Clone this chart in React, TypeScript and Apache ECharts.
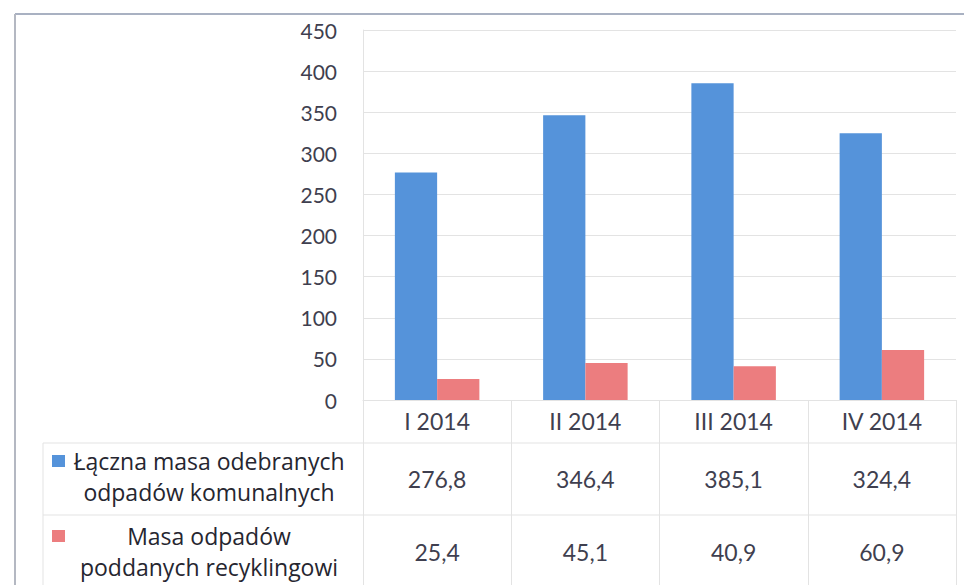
import React, { useEffect, useRef } from "react";
import * as echarts from "echarts";

const categories = ["I 2014", "II 2014", "III 2014", "IV 2014"];
const seriesNames = [
  ["Łączna masa odebranych", "odpadów komunalnych"],
  ["Masa odpadów", "poddanych recyklingowi"],
];
const totalMass = [276.8, 346.4, 385.1, 324.4];
const recycledMass = [25.4, 45.1, 40.9, 60.9];
const yTicks = [0, 50, 100, 150, 200, 250, 300, 350, 400, 450];

const BLUE = "#5593da";
const RED = "#ec7d7f";
const TEXT = "#3f3f4f";
const GRID = "#e3e3e3";
const FONT = "Lato";
const LEGEND_FONT = "'Open Sans'";

const fmt = (v: number) => v.toFixed(1).replace(".", ",");

export default function App() {
  const ref = useRef<HTMLDivElement>(null);
  useEffect(() => {
    if (!ref.current) return;
    const chart = echarts.init(ref.current, undefined, { renderer: "svg" });
    const gridLeft = 363;
    const gridRight = 8;
    const gridTop = 30;
    const gridBottom = 185;
    chart.setOption({
      animation: false,
      backgroundColor: "#ffffff",
      textStyle: { fontFamily: FONT },
      grid: { left: gridLeft, right: gridRight, top: gridTop, bottom: gridBottom },
      xAxis: {
        type: "category",
        data: categories,
        axisLine: { show: true, lineStyle: { color: GRID, width: 1 } },
        axisTick: { show: true, length: 185, lineStyle: { color: GRID, width: 1 } },
        axisLabel: { color: TEXT, fontSize: 23, fontFamily: FONT, margin: 9 },
        splitLine: { show: false },
      },
      yAxis: {
        type: "value",
        min: yTicks[0],
        max: yTicks[yTicks.length - 1],
        interval: 50,
        axisLine: { show: true, lineStyle: { color: GRID, width: 1 } },
        axisTick: { show: false },
        axisLabel: { color: TEXT, fontSize: 21, fontFamily: FONT, margin: 26 },
        splitLine: { show: true, lineStyle: { color: GRID, width: 1 } },
      },
      series: [
        {
          name: seriesNames[0].join(" "),
          type: "bar",
          data: totalMass,
          barGap: "0%",
          barCategoryGap: "43%",
          itemStyle: { color: BLUE },
        },
        {
          name: seriesNames[1].join(" "),
          type: "bar",
          data: recycledMass,
          itemStyle: { color: RED },
        },
      ],
    });

    const W = 964;
    const H = 585;
    const plotRight = W - gridRight;
    const centers = categories.map((c) => chart.convertToPixel({ xAxisIndex: 0 }, c) as number);
    const row1Top = 443;
    const row2Top = 515;
    const tableLeft = 43;
    const rowCenters = [479, 552];
    const rows = [totalMass, recycledMass];
    const colors = [BLUE, RED];
    const legendLines = [
      [461, 492],
      [536, 567],
    ];
    const markerY = [461, 536];
    const legendCenterX = 209;

    const graphics: any[] = [
      { type: "line", shape: { x1: 15, y1: 14, x2: W, y2: 14 }, style: { stroke: "#a9b1c2", lineWidth: 2 } },
      { type: "line", shape: { x1: 15, y1: 14, x2: 15, y2: H }, style: { stroke: "#b4b8c2", lineWidth: 2 } },
      { type: "line", shape: { x1: tableLeft, y1: row1Top, x2: plotRight, y2: row1Top }, style: { stroke: GRID, lineWidth: 1 } },
      { type: "line", shape: { x1: tableLeft, y1: row2Top, x2: plotRight, y2: row2Top }, style: { stroke: GRID, lineWidth: 1 } },
      { type: "line", shape: { x1: tableLeft, y1: row1Top, x2: tableLeft, y2: H }, style: { stroke: GRID, lineWidth: 1 } },
    ];
    rows.forEach((vals, r) => {
      vals.forEach((v, i) => {
        graphics.push({
          type: "text",
          x: centers[i],
          y: rowCenters[r],
          style: {
            text: fmt(v),
            fill: TEXT,
            font: `23px ${FONT}`,
            align: "center",
            verticalAlign: "middle",
          },
        });
      });
      graphics.push({
        type: "rect",
        shape: { x: 52, y: markerY[r] - 6, width: 13, height: 12 },
        style: { fill: colors[r] },
      });
      seriesNames[r].forEach((line, k) => {
        graphics.push({
          type: "text",
          x: legendCenterX,
          y: legendLines[r][k],
          style: {
            text: line,
            fill: "#262630",
            font: `23px ${LEGEND_FONT}`,
            align: "center",
            verticalAlign: "middle",
          },
        });
      });
    });
    chart.setOption({ graphic: graphics });
    return () => chart.dispose();
  }, []);
  return <div ref={ref} style={{ width: 964, height: 585, position: "absolute", left: 0, top: 0 }} />;
}
